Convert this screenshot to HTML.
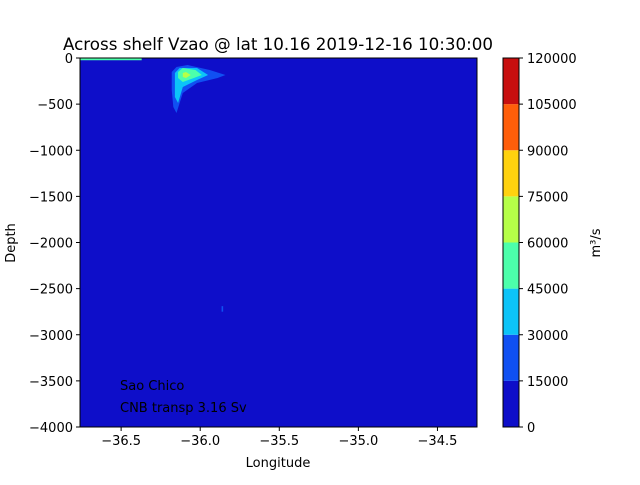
<!DOCTYPE html>
<html><head><meta charset="utf-8"><style>
body{margin:0;background:#fff;}
svg text{font-family:"DejaVu Sans","Liberation Sans",sans-serif;fill:#000;}
</style></head><body>
<svg id="chart" width="640" height="480" xmlns="http://www.w3.org/2000/svg">
<text x="278" y="50" font-size="16.7" text-anchor="middle">Across shelf Vzao @ lat 10.16 2019-12-16 10:30:00</text>
<g id="plot"></g>
<g id="axes"></g>
<g id="cbar"></g>
<text x="278" y="467" font-size="13" text-anchor="middle">Longitude</text>
<text transform="translate(15,243) rotate(-90)" font-size="13" text-anchor="middle">Depth</text>
<text transform="translate(600,243) rotate(-90)" font-size="13" text-anchor="middle">m³/s</text>
<text x="120" y="390" font-size="13">Sao Chico</text>
<text x="120" y="412" font-size="13">CNB transp 3.16 Sv</text>
</svg>
<script>
const xTicks=[-36.5,-36.0,-35.5,-35.0,-34.5];
const yTicks=[0,-500,-1000,-1500,-2000,-2500,-3000,-3500,-4000];
const cLevels=[0,15000,30000,45000,60000,75000,90000,105000,120000];
const cColors=["#0e0ec9","#1050f2","#0cc4f8","#4cffab","#b6ff48","#ffd20f","#ff5e0a","#c70f0f"];
const contour1=[[-36.18,-152],[-36.15,-98],[-36.08,-76],[-35.94,-130],[-35.84,-184],[-35.89,-217],[-36.02,-271],[-36.11,-379],[-36.15,-596],[-36.17,-531],[-36.18,-347]];
const contour2=[[-36.16,-163],[-36.13,-108],[-36.02,-108],[-35.95,-184],[-36.02,-238],[-36.11,-314],[-36.14,-488],[-36.16,-423]];
const contour3=[[-36.14,-152],[-36.11,-108],[-36.03,-130],[-35.99,-184],[-36.04,-217],[-36.11,-260],[-36.14,-217]];
const contour4=[[-36.11,-163],[-36.09,-152],[-36.06,-184],[-36.09,-217],[-36.11,-206]];
const surface1=[[-36.76,0],[-36.37,0],[-36.37,-25],[-36.76,-25]];
const speck=[[-35.865,-2690],[-35.855,-2690],[-35.855,-2750],[-35.865,-2750]];
const X0=80,X1=477,Y0=58,Y1=427,xmin=-36.76,xmax=-34.25,ymin=-4000,ymax=0;
const sx=v=>X0+(v-xmin)/(xmax-xmin)*(X1-X0);
const sy=v=>Y0+(ymax-v)/(ymax-ymin)*(Y1-Y0);
const NS="http://www.w3.org/2000/svg";
function mk(t,a,p){const e=document.createElementNS(NS,t);for(const k in a)e.setAttribute(k,a[k]);p.appendChild(e);return e;}
const plot=document.getElementById('plot'),axes=document.getElementById('axes'),cbar=document.getElementById('cbar');
let bg=mk('rect',{x:X0,y:Y0,width:X1-X0,height:Y1-Y0,fill:cColors[0]},plot);


function poly(pts,c,name){const p=mk('polygon',{points:pts.map(q=>sx(q[0])+','+sy(q[1])).join(' '),fill:c},plot);

}
poly(contour1,cColors[1],'contour-15000');
poly(contour2,cColors[2],'contour-30000');
poly(contour3,cColors[3],'contour-45000');
poly(contour4,cColors[4],'contour-60000');
poly(surface1,cColors[3],'surface-contour');
poly(speck,cColors[1],'deep-contour');
let fr=mk('rect',{x:X0,y:Y0,width:X1-X0,height:Y1-Y0,fill:'none',stroke:'#000','stroke-width':1},axes);


xTicks.forEach(v=>{const x=sx(v);mk('line',{x1:x,x2:x,y1:Y1,y2:Y1+4,stroke:'#000'},axes);
const t=mk('text',{x:x,y:Y1+18,'font-size':13,'text-anchor':'middle'},axes);t.textContent=v.toFixed(1).replace('-','−');

});
yTicks.forEach(v=>{const y=sy(v);mk('line',{x1:X0-4,x2:X0,y1:y,y2:y,stroke:'#000'},axes);
const t=mk('text',{x:X0-7,y:y+5,'font-size':13,'text-anchor':'end'},axes);t.textContent=String(v).replace('-','−');

});
const CX=503,CW=16,cmin=cLevels[0],cmax=cLevels[cLevels.length-1];
const cy=v=>Y1-(v-cmin)/(cmax-cmin)*(Y1-Y0);
for(let i=0;i<cColors.length;i++){const r=mk('rect',{x:CX,y:cy(cLevels[i+1]),width:CW,height:cy(cLevels[i])-cy(cLevels[i+1]),fill:cColors[i]},cbar);

}
mk('rect',{x:CX,y:Y0,width:CW,height:Y1-Y0,fill:'none',stroke:'#000'},cbar);
cLevels.forEach(v=>{const y=cy(v);mk('line',{x1:CX+CW,x2:CX+CW+4,y1:y,y2:y,stroke:'#000'},cbar);
const t=mk('text',{x:CX+CW+8,y:y+5,'font-size':13},cbar);t.textContent=v;

});
</script>
</body></html>
